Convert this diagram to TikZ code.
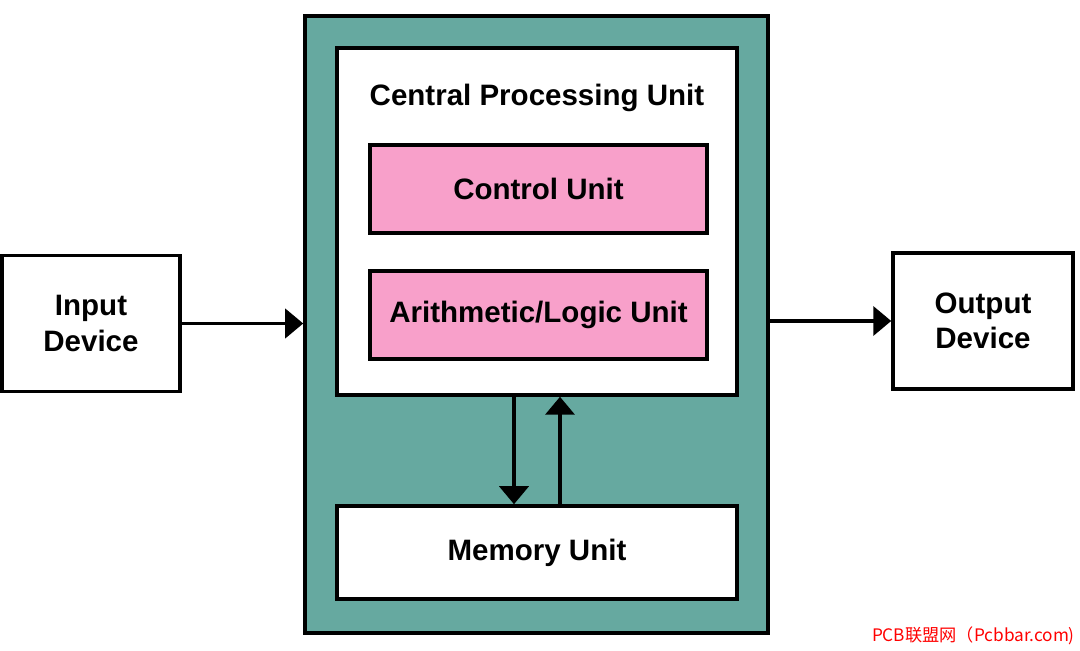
\documentclass[tikz,border=0pt]{standalone}
\usepackage{fontspec}
\setmainfont{Liberation Sans}
\newfontfamily\cjkfont{Noto Sans CJK SC}
\usetikzlibrary{arrows.meta,positioning}
\definecolor{systeal}{RGB}{102,169,160}
\definecolor{unitpink}{RGB}{248,160,202}
\tikzset{
  unit/.style={draw,line width=2pt,rectangle,fill=white,align=center,
    font=\fontsize{16.8}{20}\selectfont\bfseries,inner sep=0pt},
  flow/.style={-{Triangle[length=0.36cm,width=0.58cm]},line width=2.2pt}
}

\begin{document}
\begin{tikzpicture}[x=0.02cm,y=-0.02cm]
\useasboundingbox (0,0) rectangle (1080,651);

\node[unit,fill=systeal,minimum width=463*0.02cm,minimum height=617*0.02cm] (sys) at (536.5,324.5) {};
\node[unit,minimum width=400*0.02cm,minimum height=347*0.02cm] (cpu) at (537,221.5) {};
\node[font=\fontsize{16.8}{20}\selectfont\bfseries] (title) at (537,98) {Central Processing Unit};

\node[unit,fill=unitpink,minimum width=337*0.02cm,minimum height=88*0.02cm] (ctrl) at (538.5,189) {Control Unit};
\node[unit,fill=unitpink,minimum width=337*0.02cm,minimum height=88*0.02cm] (alu) at (538.5,315) {Arithmetic/Logic Unit};
\node[unit,minimum width=400*0.02cm,minimum height=93*0.02cm] (mem) at (537,552.5) {Memory Unit};

\node[unit,minimum width=178*0.02cm,minimum height=136*0.02cm] (in) at (91,323.5) {Input\\Device};
\node[unit,minimum width=180*0.02cm,minimum height=136*0.02cm] (out) at (983,321) {Output\\Device};

\draw[flow] (in.east) -- (in.east -| sys.west);
\draw[flow] (sys.east |- out.west) -- (out.west);
\draw[flow] ([xshift=-0.46cm]cpu.south) -- ([xshift=-0.46cm]mem.north);
\draw[flow] ([xshift=0.46cm]mem.north) -- ([xshift=0.46cm]cpu.south);

\node[text=red,font=\cjkfont\fontsize{9.8}{12}\selectfont,anchor=east] (mark) at (1081,636) {PCB联盟网（Pcbbar.com)};

\end{tikzpicture}
\end{document}
